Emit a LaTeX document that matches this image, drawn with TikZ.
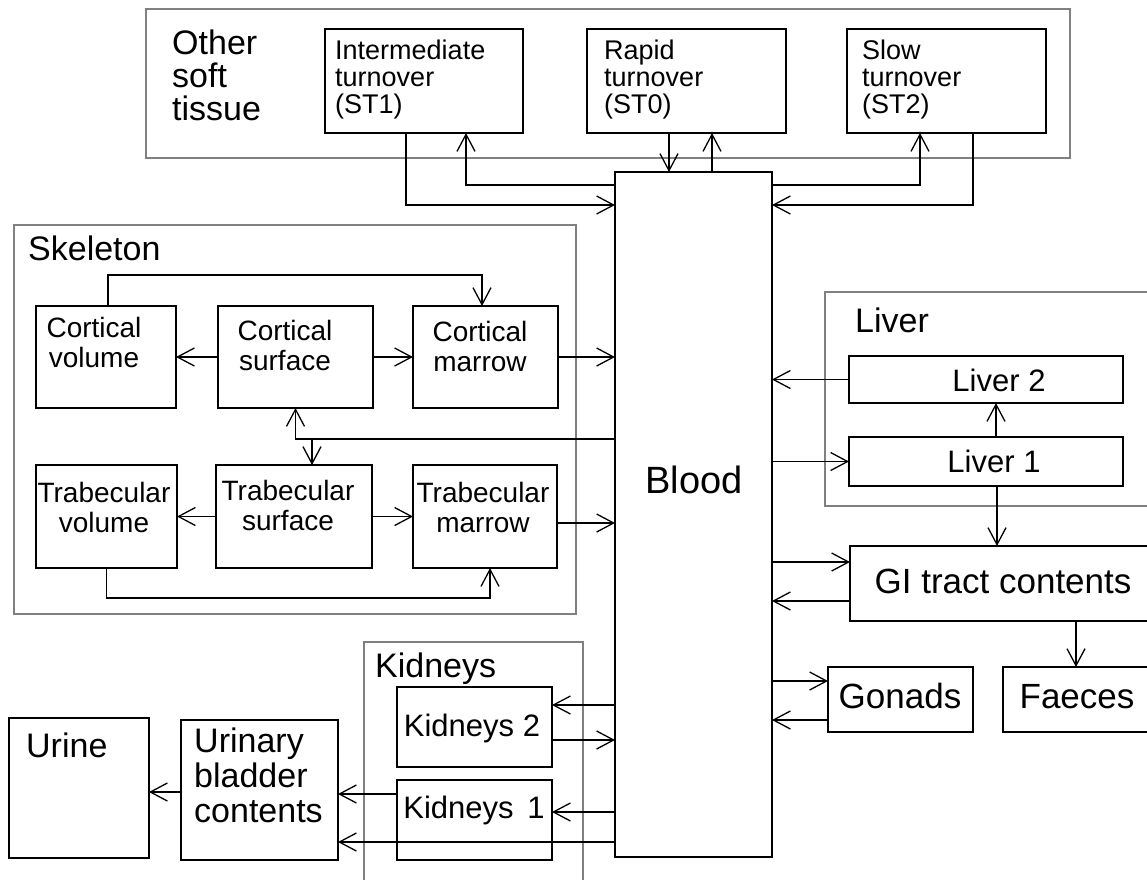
\documentclass[tikz,border=0pt]{standalone}
\usepackage{fontspec}
\setmainfont{Liberation Sans}
\usetikzlibrary{arrows.meta,positioning,fit}
\tikzset{>={Straight Barb[length=17pt,width=18pt]}}

\begin{document}
\begin{tikzpicture}[x=1pt,y=-1pt,
    box/.style={draw,line width=1.5pt,inner sep=0pt,outer sep=0pt},
    grp/.style={draw=black!50,line width=1.2pt,inner sep=0pt,outer sep=0pt},
    lnk/.style={->,line width=1.3pt},
    ttl/.style={inner sep=0pt,align=left,anchor=north west,font=\fontsize{34}{34}\selectfont},
    sttxt/.style={inner sep=0pt,align=left,anchor=north west,font=\fontsize{27}{27}\selectfont},
    sktxt/.style={inner sep=0pt,align=center,anchor=north,font=\fontsize{28}{30}\selectfont},
    midtxt/.style={inner sep=0pt,anchor=base,font=\fontsize{31}{31}\selectfont},
    bigtxt/.style={inner sep=0pt,anchor=base,font=\fontsize{35}{35}\selectfont}]
\useasboundingbox (0,0) rectangle (1147,879);

% groups
\node[grp,fit={(146,9) (1070,158)}] (gsoft) {};
\node[grp,fit={(14,225) (576,614)}] (gskel) {};
\node[grp,fit={(825,292) (1160,506)}] (gliver) {};
\node[grp,fit={(364,642) (583,895)}] (gkid) {};

% compartments
\node[box,fit={(325,29) (523,133)}] (st1) {};
\node[box,fit={(587,29) (786,133)}] (st0) {};
\node[box,fit={(847,29) (1046,133)}] (st2) {};
\node[box,fit={(615,172) (772,857)}] (blood) {};
\node[box,fit={(36,306) (176,408)}] (cvol) {};
\node[box,fit={(218,306) (373,408)}] (csurf) {};
\node[box,fit={(413,306) (558,408)}] (cmar) {};
\node[box,fit={(36,465) (177,568)}] (tvol) {};
\node[box,fit={(216,465) (372,568)}] (tsurf) {};
\node[box,fit={(413,465) (557,568)}] (tmar) {};
\node[box,fit={(849,356) (1123,403)}] (liv2) {};
\node[box,fit={(849,437) (1123,486)}] (liv1) {};
\node[box,fit={(850,546) (1160,621)}] (gi) {};
\node[box,fit={(828,667) (973,732)}] (gon) {};
\node[box,fit={(1003,667) (1160,732)}] (fae) {};
\node[box,fit={(397,687) (552,767)}] (kid2) {};
\node[box,fit={(397,780) (552,860)}] (kid1) {};
\node[box,fit={(181,720) (338,860)}] (blad) {};
\node[box,fit={(9,718) (149,858)}] (urine) {};

% texts
\node[ttl,font=\fontsize{34}{33}\selectfont] (softlbl) at (172,30) {Other\\soft\\tissue};
\node[sttxt] (st1lbl) at (335,40) {Intermediate\\turnover\\(ST1)};
\node[sttxt] (st0lbl) at (604,40) {Rapid\\turnover\\(ST0)};
\node[sttxt] (st2lbl) at (862,40) {Slow\\turnover\\(ST2)};
\node[bigtxt,font=\fontsize{38}{38}\selectfont] (bloodlbl) at (694,493) {Blood};
\node[ttl] (skellbl) at (28,236) {Skeleton};
\node[sktxt] (cvollbl) at (94,317) {Cortical\\volume};
\node[sktxt] (csurflbl) at (285,320) {Cortical\\surface};
\node[sktxt] (cmarlbl) at (480,321) {Cortical\\marrow};
\node[sktxt] (tvollbl) at (104,482) {Trabecular\\volume};
\node[sktxt] (tsurflbl) at (288,480) {Trabecular\\surface};
\node[sktxt] (tmarlbl) at (483,482) {Trabecular\\marrow};
\node[ttl] (liverlbl) at (855,308) {Liver};
\node[midtxt] (liv2lbl) at (999,391) {Liver 2};
\node[midtxt] (liv1lbl) at (994,472) {Liver 1};
\node[bigtxt] (gilbl) at (1003,593) {GI tract contents};
\node[bigtxt] (gonlbl) at (900,708) {Gonads};
\node[bigtxt] (faelbl) at (1077,708) {Faeces};
\node[ttl] (kidlbl) at (375,653) {Kidneys};
\node[midtxt] (kid2lbl) at (472,736) {Kidneys 2};
\node[midtxt] (kid1lbl) at (474,818) {Kidneys\hspace{5pt} 1};
\node[ttl] (urinelbl) at (26,733) {Urine};
\node[ttl,font=\fontsize{34}{35}\selectfont] (bladlbl) at (194,728) {Urinary\\bladder\\contents};

% other soft tissue
\draw[lnk] ([xshift=-18pt]st1.south) |- ([yshift=-33pt]blood.north west);
\draw[lnk] ([yshift=-13pt]blood.north west) -| ([xshift=42pt]st1.south);
\draw[lnk] ([xshift=-17.5pt]st0.south) -- ([xshift=-24.5pt]blood.north);
\draw[lnk] ([xshift=18.5pt]blood.north) -- ([xshift=25.5pt]st0.south);
\draw[lnk] ([yshift=-13pt]blood.north east) -| ([xshift=-26.5pt]st2.south);
\draw[lnk] ([xshift=26.5pt]st2.south) |- ([yshift=-33pt]blood.north east);

% skeleton
\draw[lnk] (csurf.west) -- (cvol.east);
\draw[lnk] (csurf.east) -- (cmar.west);
\draw[lnk] (cmar.east) -- (cmar.east -| blood.west);
\draw[lnk] ([xshift=2pt]cvol.north) -- ++(0,-31) -| ([xshift=-3.5pt]cmar.north);
\draw[lnk] ([yshift=75.5pt]blood.west) -| (csurf.south);
\coordinate (skjoin) at (312,439);
\draw[lnk] (skjoin) -- (skjoin |- tsurf.north);
\draw[lnk] (tsurf.west) -- (tvol.east);
\draw[lnk] (tsurf.east) -- (tmar.west);
\draw[lnk] ([yshift=-6.5pt]tmar.east) -- ([yshift=-8.5pt]blood.west);
\draw[lnk] (tvol.south) -- ++(0,30) -| ([xshift=5pt]tmar.south);

% liver, gut, gonads
\draw[lnk] (liv2.west) -- (liv2.west -| blood.east);
\draw[lnk] (liv1.west -| blood.east) -- (liv1.west);
\draw[lnk] ([xshift=10pt]liv1.north) -- ([xshift=10pt]liv2.south);
\draw[lnk] ([xshift=11pt]liv1.south) -- ([xshift=-8pt]gi.north);
\draw[lnk] ([yshift=-47.5pt]blood.east) -- ([yshift=21.5pt]gi.west);
\draw[lnk] ([yshift=-17.5pt]gi.west) -- ([yshift=-86.5pt]blood.east);
\draw[lnk] ([xshift=71pt]gi.south) -- ([xshift=-5.5pt]fae.north);
\draw[lnk] ([yshift=-166.5pt]blood.east) -- ([yshift=18.5pt]gon.west);
\draw[lnk] ([yshift=-20.5pt]gon.west) -- ([yshift=-205.5pt]blood.east);

% kidneys, bladder
\draw[lnk] ([yshift=-190.5pt]blood.west) -- ([yshift=22pt]kid2.east);
\draw[lnk] ([yshift=-13pt]kid2.east) -- ([yshift=-225.5pt]blood.west);
\draw[lnk] ([yshift=-297.5pt]blood.west) -- ([yshift=8pt]kid1.east);
\draw[lnk] ([yshift=26pt]kid1.west) -- ([yshift=-4pt]blad.east);
\draw[lnk] ([yshift=-327.5pt]blood.west) -- ([yshift=-52pt]blad.east);
\draw[lnk] ([yshift=-2pt]blad.west) -- ([yshift=-4pt]urine.east);
\end{tikzpicture}
\end{document}
